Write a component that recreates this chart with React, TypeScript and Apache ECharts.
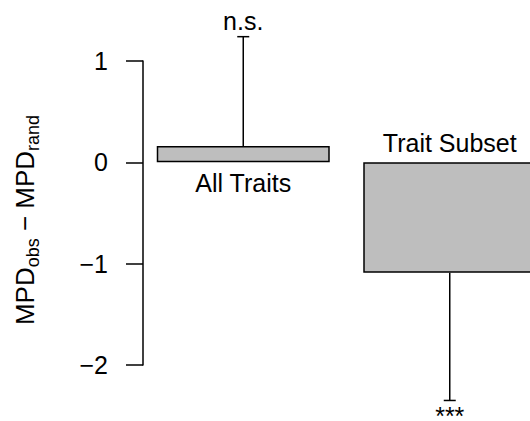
import React, { useEffect, useRef } from "react";
import * as echarts from "echarts";

const categories = ["All Traits", "Trait Subset"];
const barValues = [0.16, -1.09];
const errorEnds = [1.24, -2.35];
const sigLabels = ["n.s.", "***"];
const yTicks = { min: -2, max: 1, interval: 1 };

const FONT = "'Liberation Sans', Arial, Helvetica, sans-serif";

export default function App() {
  const ref = useRef<HTMLDivElement>(null);
  useEffect(() => {
    if (!ref.current) return;
    const chart = echarts.init(ref.current, undefined, { renderer: "svg" });
    const errData = categories.map((c, i) => [i, barValues[i], errorEnds[i]]);
    chart.setOption({
      animation: false,
      backgroundColor: "#ffffff",
      grid: { left: 140, width: 413, top: 61, height: 304, outerBoundsMode: "none", containLabel: false },
      xAxis: {
        type: "category",
        data: categories,
        show: false,
      },
      yAxis: {
        type: "value",
        min: yTicks.min,
        max: yTicks.max,
        interval: yTicks.interval,
        offset: -3,
        splitLine: { show: false },
        axisLine: { show: true, lineStyle: { color: "#000", width: 1.5 } },
        axisTick: { show: true, length: 17, lineStyle: { color: "#000", width: 1.5 } },
        axisLabel: {
          margin: 35,
          fontSize: 25,
          fontFamily: FONT,
          color: "#000",
          formatter: (v: number) => (v < 0 ? "\u2212" + Math.abs(v) : String(v)),
        },
      },
      graphic: [
        {
          type: "text",
          x: 33,
          y: 220,
          rotation: Math.PI / 2,
          style: {
            text: "{m|MPD}{s|obs}{m| \u2212 MPD}{s|rand}",
            align: "center",
            verticalAlign: "middle",
            fontFamily: FONT,
            fill: "#000",
            rich: {
              m: { fontSize: 26, lineHeight: 26, verticalAlign: "top", fontFamily: FONT, fill: "#000" },
              s: { fontSize: 18, lineHeight: 42, fontFamily: FONT, fill: "#000" },
            },
          },
        },
      ],
      series: [
        {
          type: "bar",
          data: barValues,
          barWidth: 173,
          clip: false,
          itemStyle: { color: "#BEBEBE", borderColor: "#000", borderWidth: 1.5 },
          z: 2,
        },
        {
          type: "custom",
          data: errData,
          clip: false,
          z: 3,
          renderItem: (params: any, api: any) => {
            const i = api.value(0);
            const v = api.value(1);
            const e = api.value(2);
            const p0 = api.coord([i, v]);
            const p1 = api.coord([i, e]);
            const zero = api.coord([i, 0]);
            const up = e > v;
            const half = 6;
            const lineStyle = { stroke: "#000", lineWidth: 1.5 };
            const textStyle = (t: string, x: number, y: number) => ({
              type: "text",
              style: {
                text: t,
                x,
                y,
                align: "center",
                verticalAlign: "middle",
                fontSize: 25,
                fontFamily: FONT,
                fill: "#000",
              },
            });
            return {
              type: "group",
              children: [
                { type: "line", shape: { x1: p0[0], y1: p0[1], x2: p1[0], y2: p1[1] }, style: lineStyle },
                { type: "line", shape: { x1: p1[0] - half, y1: p1[1], x2: p1[0] + half, y2: p1[1] }, style: lineStyle },
                textStyle(sigLabels[params.dataIndex], p1[0], up ? p1[1] - 16 : p1[1] + 16),
                textStyle(categories[params.dataIndex], zero[0], up ? zero[1] + 20.5 : zero[1] - 19),
              ],
            };
          },
        },
      ],
    });
    return () => chart.dispose();
  }, []);
  return <div ref={ref} style={{ width: 530, height: 421, position: "absolute", left: 0, top: 0 }} />;
}
